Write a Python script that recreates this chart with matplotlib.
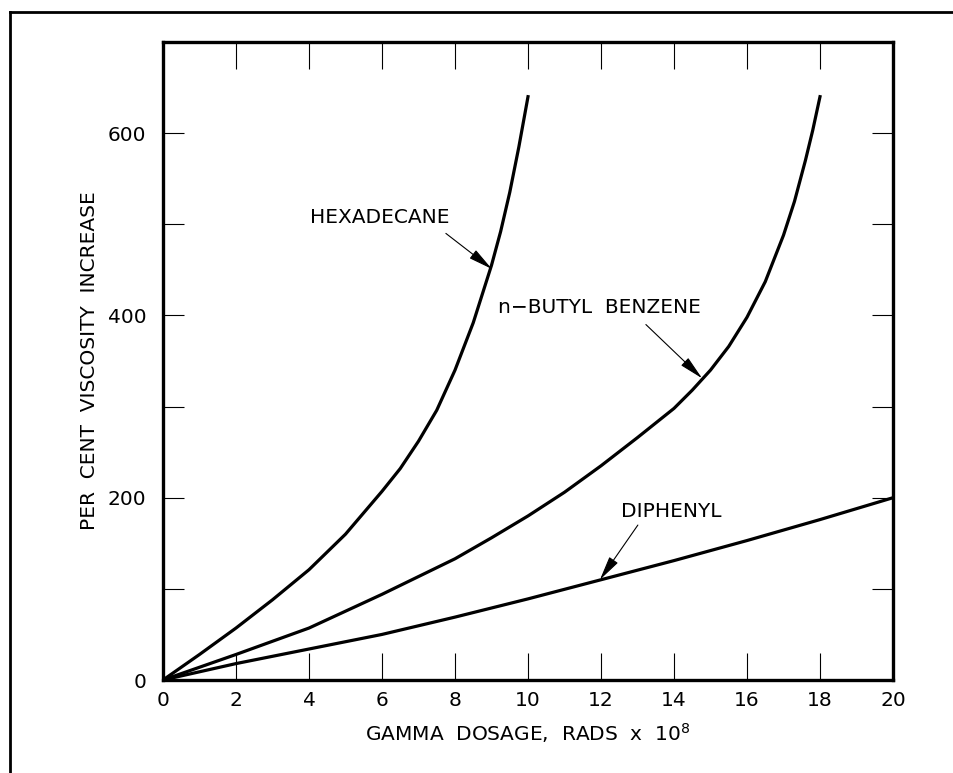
import matplotlib
matplotlib.use("Agg")
import matplotlib.pyplot as plt
from matplotlib.lines import Line2D

# values
hexa_x = [0, 1, 2, 3, 4, 5, 6, 6.5, 7, 7.5, 8, 8.5, 9, 9.25, 9.5, 9.75, 10]
hexa_y = [0, 28, 57, 88, 121, 160, 207, 232, 262, 296, 340, 392, 455, 492, 535, 585, 640]

butyl_x = [0, 2, 4, 6, 8, 9, 10, 11, 12, 13, 14, 14.5, 15, 15.5, 16, 16.5, 17, 17.3, 17.6, 17.8, 18]
butyl_y = [0, 28, 57, 94, 133, 156, 180, 206, 235, 266, 298, 318, 340, 366, 398, 437, 488, 525, 570, 603, 640]

diph_x = [0, 2, 4, 6, 8, 10, 12, 14, 16, 18, 20]
diph_y = [0, 18, 34, 50, 69, 89, 110, 131, 153, 176, 200]

xticks = list(range(0, 21, 2))
yticks = list(range(0, 700, 100))
ytick_labels = ["0", "", "200", "", "400", "", "600"]

FS = 14.5

fig = plt.figure(figsize=(9.54, 7.73), dpi=100)
ax = fig.add_axes([163/954, 1-680/773, 730/954, 638/773])

for xs, ys in [(hexa_x, hexa_y), (butyl_x, butyl_y), (diph_x, diph_y)]:
    ax.plot(xs, ys, color="black", lw=2.3, solid_joinstyle="round")

ax.set_xlim(0, 20)
ax.set_ylim(0, 700)
ax.set_xticks(xticks)
ax.set_yticks(yticks)
ax.set_yticklabels(ytick_labels)
ax.tick_params(axis="x", direction="in", length=19.5, width=0.8, pad=8,
               labelsize=FS, top=True)
ax.tick_params(axis="y", direction="in", length=15, width=0.8, pad=12,
               labelsize=FS, right=True)
for s in ax.spines.values():
    s.set_linewidth(2.4)

ax.set_xlabel("GAMMA  DOSAGE,  RADS  x  10$^{8}$", fontsize=FS, labelpad=8)
ax.set_ylabel("PER  CENT  VISCOSITY  INCREASE", fontsize=FS, labelpad=6)

# curve labels with arrows
arrow = dict(arrowstyle="-|>,head_length=0.75,head_width=0.16", color="black",
             lw=0.8, shrinkA=0, shrinkB=0, mutation_scale=20)
ax.text(4.03, 507, "HEXADECANE", fontsize=FS, va="center", ha="left")
ax.annotate("", xy=(9.01, 451), xytext=(7.75, 490), arrowprops=arrow)
ax.text(9.18, 409, "n\u2212BUTYL  BENZENE", fontsize=FS, va="center", ha="left")
ax.annotate("", xy=(14.77, 331), xytext=(13.23, 390), arrowprops=arrow)
ax.text(12.55, 185, "DIPHENYL", fontsize=FS, va="center", ha="left")
ax.annotate("", xy=(11.97, 110), xytext=(13.01, 170), arrowprops=arrow)

# outer frame (only left and top edges fall inside the picture)
fx, fy = 10/954, 1-12/773
fig.add_artist(Line2D([fx, fx], [0, fy], transform=fig.transFigure, color="black", lw=2))
fig.add_artist(Line2D([fx, 1], [fy, fy], transform=fig.transFigure, color="black", lw=2))

fig.savefig("out.png", dpi=100)
